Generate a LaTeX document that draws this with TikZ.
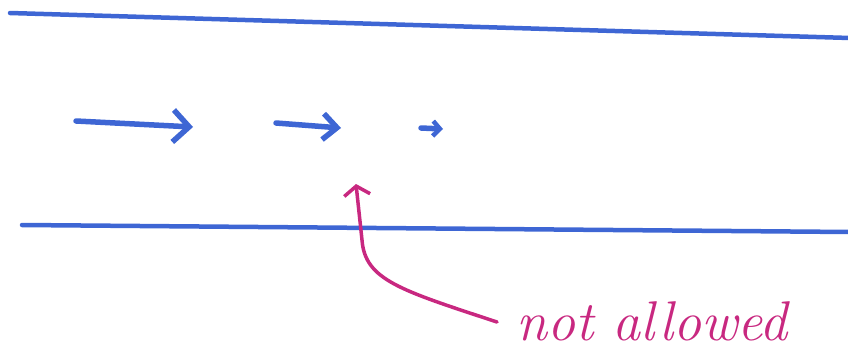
\documentclass[tikz,border=0pt]{standalone}
\usetikzlibrary{arrows.meta}
\definecolor{penblue}{RGB}{62,102,212}
\definecolor{penmag}{RGB}{200,40,128}
\begin{document}
\begin{tikzpicture}[x=1pt,y=-1pt,
  wall/.style={draw=penblue,line width=4.5pt,line cap=round},
  flow/.style={draw=penblue,line width=5.5pt,line cap=round,line join=round},
  note/.style={draw=penmag,line width=3.5pt,line cap=round,line join=round},
  notetext/.style={text=penmag,font=\fontsize{56}{60}\selectfont\itshape,inner sep=0pt,anchor=base west}]
\useasboundingbox (0,0) rectangle (848,356);
% walls
\coordinate (t1) at (10,13); \coordinate (t2) at (850,38);
\coordinate (b1) at (22,225); \coordinate (b2) at (850,232);
\draw[wall] (t1) -- (t2);
\draw[wall] (b1) -- (b2);
% flow arrows
\coordinate (a1s) at (76,121); \coordinate (a1e) at (193,127);
\coordinate (a2s) at (276,123); \coordinate (a2e) at (341,128);
\coordinate (a3s) at (421,128); \coordinate (a3e) at (443,129);
\draw[flow,-{Straight Barb[length=16pt,width=32pt,line width=5.5pt]}] (a1s) -- (a1e);
\draw[flow,-{Straight Barb[length=14pt,width=26pt,line width=5.5pt]}] (a2s) -- (a2e);
\draw[flow,-{Straight Barb[length=7pt,width=15pt,line width=4.5pt]}] (a3s) -- (a3e);
% annotation
\node[notetext] (lbl) at (516,340) {not allowed};
\coordinate (ns) at (497,322);
\coordinate (ne) at (356,184);
\draw[note,-{Straight Barb[length=9pt,width=26pt,line width=3.5pt]}]
  (ns) .. controls (400,290) and (365,280) .. (362,240) -- (ne);
\end{tikzpicture}
\end{document}
